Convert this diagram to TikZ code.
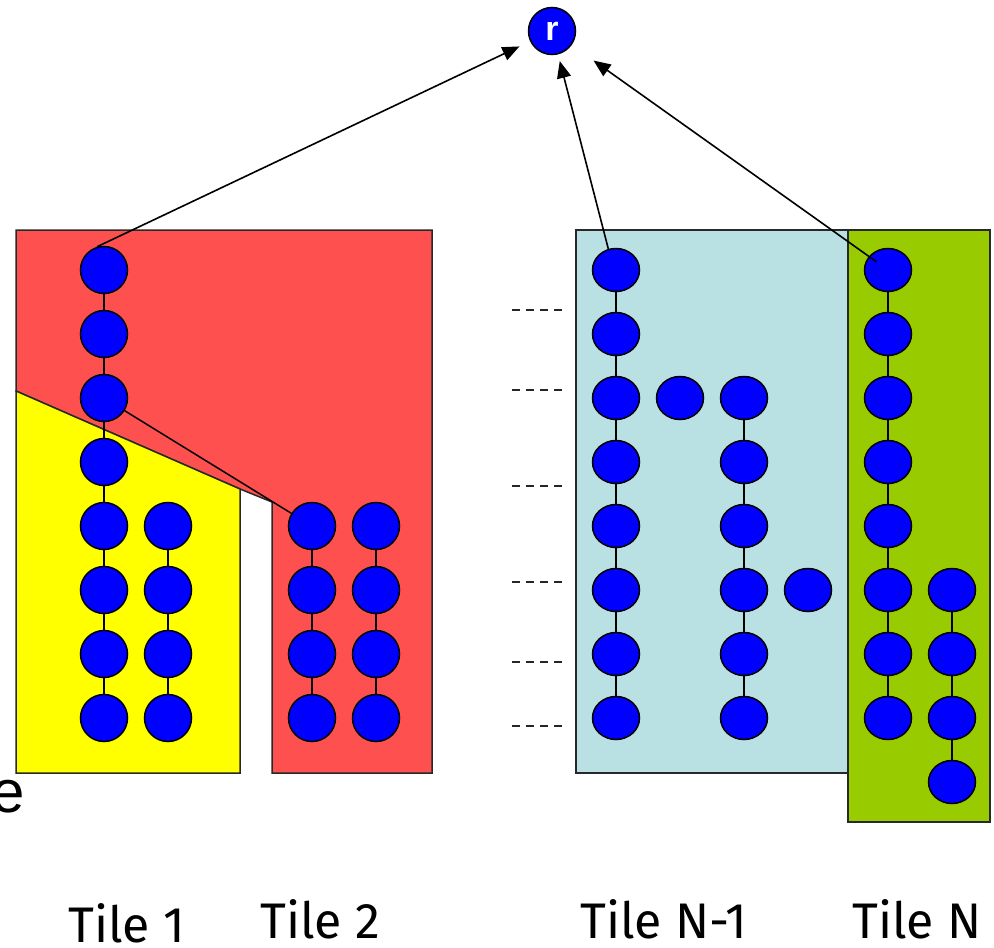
\documentclass[tikz,border=0pt]{standalone}
\usepackage{fontspec}
\setmainfont{Fira Sans}
\newfontfamily\arialfont{Liberation Sans}
\usetikzlibrary{arrows.meta,shapes.geometric}
\definecolor{tilered}{RGB}{255,80,80}
\definecolor{tileyellow}{RGB}{255,255,0}
\definecolor{tileblue}{RGB}{185,224,227}
\definecolor{tilegreen}{RGB}{153,204,0}
\definecolor{nodeblue}{RGB}{0,0,255}
\definecolor{edgegray}{RGB}{40,40,40}
\begin{document}
\begin{tikzpicture}[x=1pt,y=-1pt,
  tilebox/.style={draw=edgegray, line width=1.5pt},
  cnode/.style={circle, draw=black, fill=nodeblue, line width=1.5pt,
    minimum size=47pt, inner sep=0pt},
  enode/.style={ellipse, draw=black, fill=nodeblue, line width=1.5pt,
    minimum width=47pt, minimum height=43pt, inner sep=0pt},
  link/.style={draw=black, line width=1.5pt},
  toroot/.style={draw=black, line width=1.6pt, -{Triangle[length=17pt,width=14pt]}},
  gapdash/.style={draw=black!85, line width=2.4pt, dash pattern=on 8pt off 6pt},
  tilelabel/.style={anchor=base west, inner sep=0pt, font=\fontsize{50}{60}\selectfont}
]
\useasboundingbox (0,0) rectangle (994,948);

% tiles
\path[tilebox, fill=tilered] (16,230) -- (432,230) -- (432,773) -- (272,773)
  -- (272,502) -- (240,489) -- (16,391) -- cycle;
\path[tilebox, fill=tileyellow] (16,391) -- (240,489) -- (240,773) -- (16,773) -- cycle;
\path[tilebox, fill=tileblue] (576,230) rectangle (848,773);
\path[tilebox, fill=tilegreen] (848,230) rectangle (990,822);

% root
\node[cnode] (r) at (552,31) {\arialfont\bfseries\fontsize{34}{34}\selectfont\color{white}r};

% tile 1
\foreach \k in {1,...,8} \node[cnode] (ta\k) at (104,206+64*\k) {};
\foreach \k in {5,...,8} \node[cnode] (tb\k) at (168,206+64*\k) {};
% tile 2
\foreach \k in {5,...,8} \node[cnode] (tc\k) at (312,206+64*\k) {};
\foreach \k in {5,...,8} \node[cnode] (td\k) at (376,206+64*\k) {};
% tile N-1
\foreach \k in {1,...,8} \node[enode] (te\k) at (616,206+64*\k) {};
\node[enode] (tf3) at (680,398) {};
\foreach \k in {3,...,8} \node[enode] (tg\k) at (744,206+64*\k) {};
\node[enode] (th6) at (808,590) {};
% tile N
\foreach \k in {1,...,8} \node[enode] (ti\k) at (888,206+64*\k) {};
\foreach \k in {6,...,9} \node[enode] (tj\k) at (952,206+64*\k) {};

% chains
\foreach \c/\a/\b in {ta/1/7, tb/5/7, tc/5/7, td/5/7, te/1/7, tg/3/7, ti/1/7, tj/6/8}
  \foreach \k in {\a,...,\b} {
    \pgfmathtruncatemacro{\n}{\k+1}
    \draw[link] (\c\k) -- (\c\n);
  }
\draw[link] (ta3) -- (tc5);

% gap marks
\foreach \y in {310,390,486,582,662,726}
  \draw[gapdash] (512,\y) -- (562,\y);

% links to the root
\draw[toroot, shorten >=36pt] (ta1.107) -- (r.center);
\draw[toroot, shorten >=31pt] (te1.110) -- (r.center);
\draw[toroot, shorten <=14pt, shorten >=51pt] (ti1.center) -- (r.center);

% labels
\node[tilelabel] (l1) at (68,942) {Tile 1};
\node[tilelabel] (l2) at (260,938) {Tile 2};
\node[tilelabel] (l3) at (580,938) {Tile N-1};
\node[tilelabel] (l4) at (852,938) {Tile N};
\node[anchor=base east, inner sep=0pt, font=\arialfont\fontsize{60}{60}\selectfont] (e) at (25,812) {e};
\end{tikzpicture}
\end{document}
